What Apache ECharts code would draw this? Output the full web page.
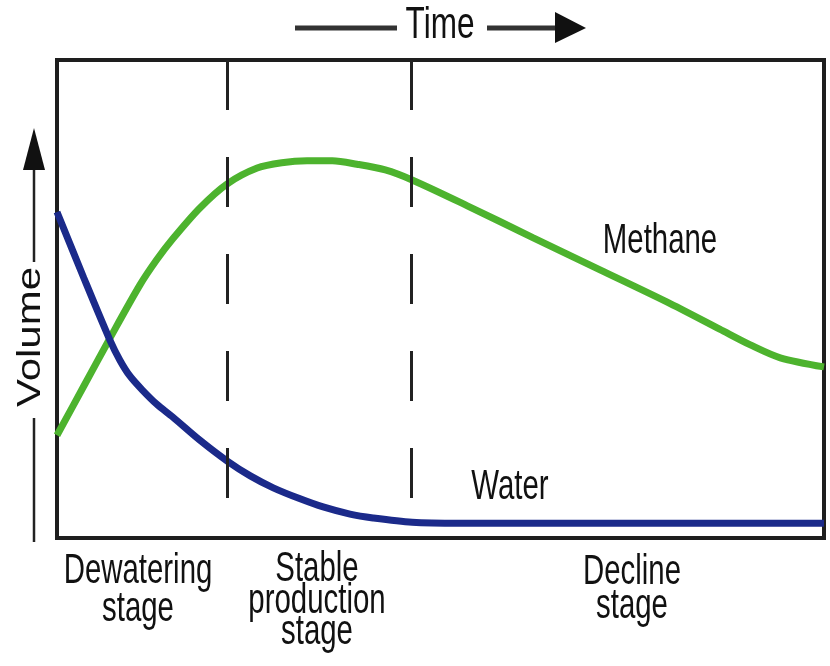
<!DOCTYPE html>
<html>
<head>
<meta charset="utf-8">
<script src="https://cdn.jsdelivr.net/npm/echarts@6/dist/echarts.min.js"></script>
<style>html,body{margin:0;padding:0;background:#fff}#c{width:830px;height:666px}</style>
</head>
<body>
<div id="c"></div>
<script>
// Time (0-100) vs. relative volume (0-100)
const waterTime = [0, 3.5, 6.9, 8.2, 9.5, 11.1, 13.0, 15.1, 18.6, 22.2, 25.2, 28.2, 31.7, 34.7, 38.2, 41.2, 46.3, 52.5, 75, 100];
const waterVolume = [68.2, 54.4, 41.4, 37.2, 33.9, 31.0, 28.0, 25.3, 20.5, 16.1, 13.0, 10.5, 8.2, 6.5, 5.0, 4.2, 3.3, 3.1, 3.1, 3.1];
const methaneTime = [0, 3.5, 6.9, 10.8, 13.0, 15.1, 18.6, 22.2, 26.1, 29.3, 32.6, 35.9, 39.1, 42.8, 46.3, 53.5, 62.1, 70.8, 79.5, 86.4, 90.4, 94.3, 100];
const methaneVolume = [21.5, 31.8, 41.8, 52.9, 58.2, 62.6, 69.0, 74.1, 77.4, 78.5, 78.9, 78.9, 78.2, 77.0, 74.9, 69.5, 62.8, 56.1, 49.4, 43.7, 40.4, 37.7, 35.8];
const stageBoundaries = [22.2, 46.2];
const stageLabels = [["Dewatering", "stage"], ["Stable", "production", "stage"], ["Decline", "stage"]];
const seriesNames = ["Water", "Methane"];
const axisTitles = ["Time", "Volume"];

const chart = echarts.init(document.getElementById('c'), null, {renderer: 'canvas'});
const FONT = '"Liberation Sans", Arial, sans-serif';
const SX = 0.7;

function txt(text, x, y, size, extra) {
  return Object.assign({
    type: 'text', x: x, y: y, scaleX: SX, silent: true,
    style: {text: text, font: size + 'px ' + FONT, fill: '#111', align: 'center', verticalAlign: 'middle'}
  }, extra || {});
}

const graphics = [];
// Time arrow
graphics.push({type: 'line', silent: true, shape: {x1: 295, y1: 28, x2: 397, y2: 28}, style: {stroke: '#333', lineWidth: 5}});
graphics.push({type: 'line', silent: true, shape: {x1: 487, y1: 28, x2: 560, y2: 28}, style: {stroke: '#333', lineWidth: 5}});
graphics.push({type: 'polygon', silent: true, shape: {points: [[555, 12], [555, 43], [586, 28]]}, style: {fill: '#111'}});
graphics.push(txt(axisTitles[0], 440, 26, 45));
// Volume arrow
graphics.push({type: 'line', silent: true, shape: {x1: 34, y1: 165, x2: 34, y2: 262}, style: {stroke: '#222', lineWidth: 2.5}});
graphics.push({type: 'line', silent: true, shape: {x1: 34, y1: 418, x2: 34, y2: 542}, style: {stroke: '#222', lineWidth: 2.5}});
graphics.push({type: 'polygon', silent: true, shape: {points: [[23, 170], [45, 170], [34, 128]]}, style: {fill: '#111'}});
graphics.push({
  type: 'text', x: 31, y: 337, rotation: Math.PI / 2, scaleY: 0.8, silent: true,
  style: {text: axisTitles[1], font: '42px ' + FONT, fill: '#111', align: 'center', verticalAlign: 'middle'}
});
// Stage labels
const stageX = [138, 317, 632];
const stageY = [[571, 609], [569, 601, 632], [572, 606]];
stageLabels.forEach((lines, i) => {
  lines.forEach((l, j) => graphics.push(txt(l, stageX[i], stageY[i][j], 42)));
});
// Series labels
graphics.push(txt(seriesNames[1], 660, 241, 42));
graphics.push(txt(seriesNames[0], 510, 487, 42));

const option = {
  backgroundColor: '#fff',
  animation: false,
  grid: {left: 57, right: 6, top: 60, bottom: 128, show: true, borderColor: '#1e1e1e', borderWidth: 4, backgroundColor: '#fff'},
  xAxis: {type: 'value', min: 0, max: 100, show: false},
  yAxis: {type: 'value', min: 0, max: 100, show: false},
  series: [
    {
      name: seriesNames[0], type: 'line', smooth: 0.3, showSymbol: false, symbol: 'none',
      data: waterTime.map((t, i) => [t, waterVolume[i]]),
      lineStyle: {color: '#1b2a8a', width: 7}, z: 3,
      markLine: {
        silent: true, symbol: 'none', label: {show: false},
        lineStyle: {color: '#222', width: 3, type: [50, 47]},
        data: stageBoundaries.map(b => [{coord: [b, 100]}, {coord: [b, 0]}])
      }
    },
    {
      name: seriesNames[1], type: 'line', smooth: 0.3, showSymbol: false, symbol: 'none',
      data: methaneTime.map((t, i) => [t, methaneVolume[i]]),
      lineStyle: {color: '#4db32e', width: 7}, z: 2
    }
  ],
  graphic: graphics
};
chart.setOption(option);
</script>
</body>
</html>
